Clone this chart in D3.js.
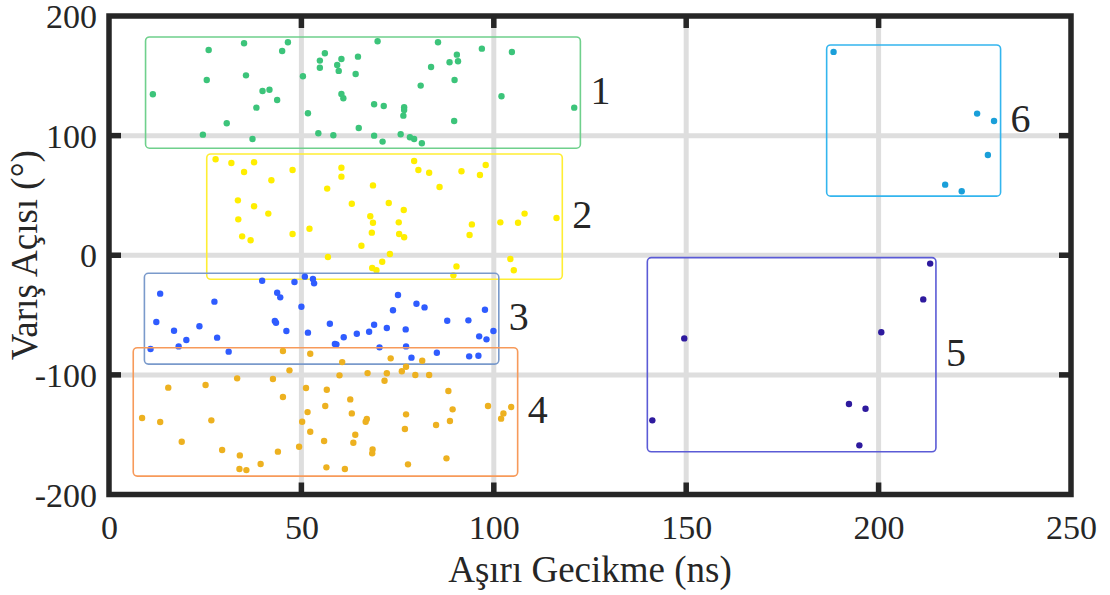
<!DOCTYPE html>
<html>
<head>
<meta charset="utf-8">
<script src="https://cdn.jsdelivr.net/npm/d3@7"></script>
<style>
  body { margin: 0; background: #fff; }
  svg text { font-family: "Liberation Serif", "Times New Roman", serif; fill: #262626; }
</style>
</head>
<body>
<svg width="1110" height="595"></svg>
<script>
// points: [delay ns, angle deg]
var cluster1 = [[11.4,134.6],[25.9,171.6],[35.1,177.2],[46.5,178.0],[45.0,170.8],[25.4,146.5],[35.6,150.4],
  [39.9,137.3],[41.7,138.4],[43.7,129.8],[38.3,123.4],[30.6,110.3],[24.4,100.8],[37.3,97.2],[50.4,149.6],
  [51.7,118.7],[54.4,102.0],[58.3,100.3],[54.8,162.7],[54.8,156.8],[56.1,168.9],[60.4,164.1],[59.3,159.1],
  [59.7,154.1],[64.7,166.0],[64.1,151.5],[60.4,134.8],[60.9,131.2],[69.8,178.9],[68.9,126.2],[71.4,124.8],
  [64.9,106.4],[68.9,100.0],[71.1,95.0],[76.7,123.7],[76.7,121.4],[76.5,116.7],[75.8,101.1],[78.2,98.6],
  [79.3,97.2],[81.3,93.6],[81.0,141.8],[83.7,157.4],[85.5,178.0],[88.5,161.3],[90.4,167.7],[90.7,162.2],
  [89.8,146.5],[89.7,112.2],[96.9,172.7],[104.7,169.9],[102.0,132.9],[120.9,123.4]];

var cluster2 = [[27.7,80.2],[31.8,77.1],[35.1,69.6],[37.7,77.7],[42.2,62.7],[47.7,71.3],[60.4,73.2],[60.4,65.7],
  [56.7,55.7],[68.6,58.4],[79.3,78.8],[80.4,71.3],[83.2,69.0],[85.9,57.1],[91.6,70.2],[96.4,67.1],[97.9,75.5],
  [33.5,45.9],[37.7,40.9],[41.4,34.8],[33.6,30.0],[34.6,15.8],[36.8,12.5],[47.7,17.8],[52.1,22.2],[63.1,43.1],
  [72.7,43.7],[76.6,37.8],[67.9,32.6],[68.6,27.2],[75.3,27.5],[68.3,18.9],[75.4,17.8],[76.7,15.0],[65.6,8.0],
  [94.3,25.8],[93.7,16.9],[101.7,27.5],[106.3,27.2],[108.0,34.8],[116.3,31.1],[56.9,-1.5],[73.0,1.0],
  [71.0,-5.4],[68.4,-10.7],[69.5,-12.6],[90.3,-9.3],[89.5,-16.8],[104.3,-3.1],[105.2,-12.6]];

var cluster3 = [[13.3,-32.1],[12.3,-55.8],[10.8,-78.4],[16.9,-63.1],[18.1,-76.2],[20.1,-70.9],[23.5,-59.4],
  [27.4,-38.8],[28.1,-68.9],[31.1,-80.6],[39.8,-21.3],[43.7,-31.3],[44.5,-35.2],[43.1,-55.0],[43.4,-56.4],
  [46.1,-63.3],[48.2,-22.4],[50.9,-17.9],[53.0,-19.9],[53.3,-23.5],[50.0,-43.0],[51.7,-64.7],[57.4,-57.2],
  [58.7,-74.2],[59.1,-74.5],[61.0,-68.6],[64.4,-65.6],[67.6,-63.9],[68.9,-58.1],[72.2,-60.8],[70.3,-77.0],
  [73.8,-46.0],[75.1,-33.2],[77.1,-62.0],[77.2,-76.2],[78.6,-85.6],[79.9,-40.5],[82.0,-43.6],[85.2,-81.5],
  [87.9,-54.7],[93.4,-54.4],[93.6,-84.5],[96.0,-84.0],[96.2,-67.8],[98.1,-70.3],[97.7,-45.5],[99.9,-63.3]];

var cluster4 = [[45.2,-80.1],[52.3,-82.3],[60.6,-89.3],[46.9,-96.2],[33.3,-102.9],[42.6,-103.5],[15.4,-110.7],
  [25.1,-108.5],[59.9,-100.4],[67.2,-98.5],[73.2,-86.2],[72.2,-98.7],[71.6,-104.9],[76.1,-97.0],[77.2,-93.2],
  [79.6,-100.1],[81.4,-88.2],[83.2,-100.1],[51.2,-111.0],[56.6,-112.4],[45.2,-118.5],[62.7,-120.5],
  [56.2,-126.0],[51.6,-131.1],[50.2,-139.2],[52.3,-147.5],[63.1,-132.2],[67.0,-136.9],[66.7,-139.2],
  [64.0,-150.0],[63.5,-156.7],[55.9,-155.3],[77.2,-133.0],[76.9,-145.3],[88.2,-113.5],[89.3,-128.8],
  [88.6,-138.6],[85.0,-141.9],[98.5,-126.0],[102.5,-132.2],[101.9,-136.6],[104.5,-126.9],[8.6,-136.1],
  [13.3,-139.4],[26.6,-138.0],[18.9,-155.9],[29.4,-162.8],[34.0,-167.3],[33.9,-178.7],[35.7,-179.6],
  [39.4,-174.5],[43.9,-164.2],[49.4,-160.1],[68.5,-162.3],[68.4,-165.6],[56.5,-177.3],[61.3,-178.7],
  [77.7,-174.8],[87.7,-169.8]];

var cluster5 = [[213.4,-7.0],[211.6,-36.9],[200.7,-64.4],[149.5,-69.5],[141.2,-138.0],[192.3,-124.4],
  [196.6,-128.3],[195.0,-158.9]];

var cluster6 = [[188.3,170.0],[225.6,118.4],[230.0,112.2],[228.4,83.8],[217.3,59.0],[221.6,53.5]];

// cluster bounds [xmin, xmax, ymin, ymax]
var bounds = [[9.5,122.5,89.5,182.5],[25.4,117.8,-20.1,84.7],[9.2,101.3,-91.0,-15.1],
  [6.3,106.2,-184.6,-77.3],[139.9,214.9,-164.3,-2.0],[186.5,231.7,49.4,175.8]];
var clusterLabels = ["1", "2", "3", "4", "5", "6"];

var xTicks = [0, 50, 100, 150, 200, 250];
var yTicks = [-200, -100, 0, 100, 200];

var dotColors = ["#3cc47a", "#ffee00", "#2f5cff", "#edb120", "#2e1a9e", "#1a9fd9"];
var boxColors = ["#6fd08c", "#ffee33", "#7a9acb", "#f79a5a", "#5b5bd6", "#33b5ee"];

var svg = d3.select("svg");
var pLeft = 109, pRight = 1071, pTop = 16, pBottom = 494.5;

var x = d3.scaleLinear().domain([0, 250]).range([pLeft, pRight]);
var y = d3.scaleLinear().domain([-200, 200]).range([pBottom, pTop]);

// grid
var grid = svg.append("g").attr("stroke", "#dedede").attr("stroke-width", 5);
grid.selectAll(".gx").data(xTicks.slice(1, -1)).enter().append("line")
  .attr("x1", function(d) { return x(d); }).attr("x2", function(d) { return x(d); })
  .attr("y1", pTop).attr("y2", pBottom);
grid.selectAll(".gy").data(yTicks.slice(1, -1)).enter().append("line")
  .attr("y1", function(d) { return y(d); }).attr("y2", function(d) { return y(d); })
  .attr("x1", pLeft).attr("x2", pRight);

var clusters = [cluster1, cluster2, cluster3, cluster4, cluster5, cluster6];

clusters.forEach(function(pts, i) {
  var b = bounds[i];
  svg.append("rect")
    .attr("x", x(b[0])).attr("y", y(b[3]))
    .attr("width", x(b[1]) - x(b[0])).attr("height", y(b[2]) - y(b[3]))
    .attr("rx", 4).attr("ry", 4)
    .attr("fill", "none").attr("stroke", boxColors[i]).attr("stroke-width", 1.6);

  svg.append("g").selectAll("circle").data(pts).enter().append("circle")
    .attr("cx", function(d) { return x(d[0]); })
    .attr("cy", function(d) { return y(d[1]); })
    .attr("r", 3.2)
    .attr("fill", dotColors[i]);

  svg.append("text")
    .attr("x", x(b[1]) + 10)
    .attr("y", (y(b[2]) + y(b[3])) / 2 - 3)
    .attr("dy", "0.35em")
    .style("font-size", "40px")
    .text(clusterLabels[i]);
});

// tick labels via d3 axes (plain hyphen minus), frame drawn by hand
var plain = function(d) { return String(d); };
var axisX = d3.axisBottom(x).tickValues(xTicks).tickFormat(plain).tickSize(0).tickPadding(0);
var gx = svg.append("g").attr("transform", "translate(0," + pBottom + ")").call(axisX);
gx.attr("font-family", null).attr("font-size", null);
gx.select(".domain").remove();
gx.selectAll("text").attr("y", 44).attr("dy", 0).style("font-size", "34px").attr("fill", "#262626");

var axisY = d3.axisLeft(y).tickValues(yTicks).tickFormat(plain).tickSize(0).tickPadding(12);
var gy = svg.append("g").attr("transform", "translate(" + pLeft + ",0)").call(axisY);
gy.attr("font-family", null).attr("font-size", null);
gy.select(".domain").remove();
gy.selectAll("text").attr("dy", "0.34em").style("font-size", "34px").attr("fill", "#262626");

var frame = svg.append("g").attr("stroke", "#262626").attr("stroke-width", 5.5);
frame.selectAll(".tx").data(xTicks.slice(1, -1)).enter().append("line")
  .attr("x1", function(d) { return x(d); }).attr("x2", function(d) { return x(d); })
  .attr("y1", pBottom).attr("y2", pBottom - 12);
frame.selectAll(".tx2").data(xTicks.slice(1, -1)).enter().append("line")
  .attr("x1", function(d) { return x(d); }).attr("x2", function(d) { return x(d); })
  .attr("y1", pTop).attr("y2", pTop + 12);
frame.selectAll(".ty").data(yTicks.slice(1, -1)).enter().append("line")
  .attr("y1", function(d) { return y(d); }).attr("y2", function(d) { return y(d); })
  .attr("x1", pLeft).attr("x2", pLeft + 12);
frame.selectAll(".ty2").data(yTicks.slice(1, -1)).enter().append("line")
  .attr("y1", function(d) { return y(d); }).attr("y2", function(d) { return y(d); })
  .attr("x1", pRight).attr("x2", pRight - 12);
frame.append("rect")
  .attr("x", pLeft).attr("y", pTop).attr("width", pRight - pLeft).attr("height", pBottom - pTop)
  .attr("fill", "none");

// axis titles
svg.append("text")
  .attr("x", (pLeft + pRight) / 2).attr("y", 582)
  .attr("text-anchor", "middle").style("font-size", "37px")
  .text("Aşırı Gecikme (ns)");

svg.append("text")
  .attr("transform", "translate(37," + ((pTop + pBottom) / 2) + ") rotate(-90)")
  .attr("text-anchor", "middle").style("font-size", "37px")
  .text("Varış Açısı (°)");
</script>
</body>
</html>
